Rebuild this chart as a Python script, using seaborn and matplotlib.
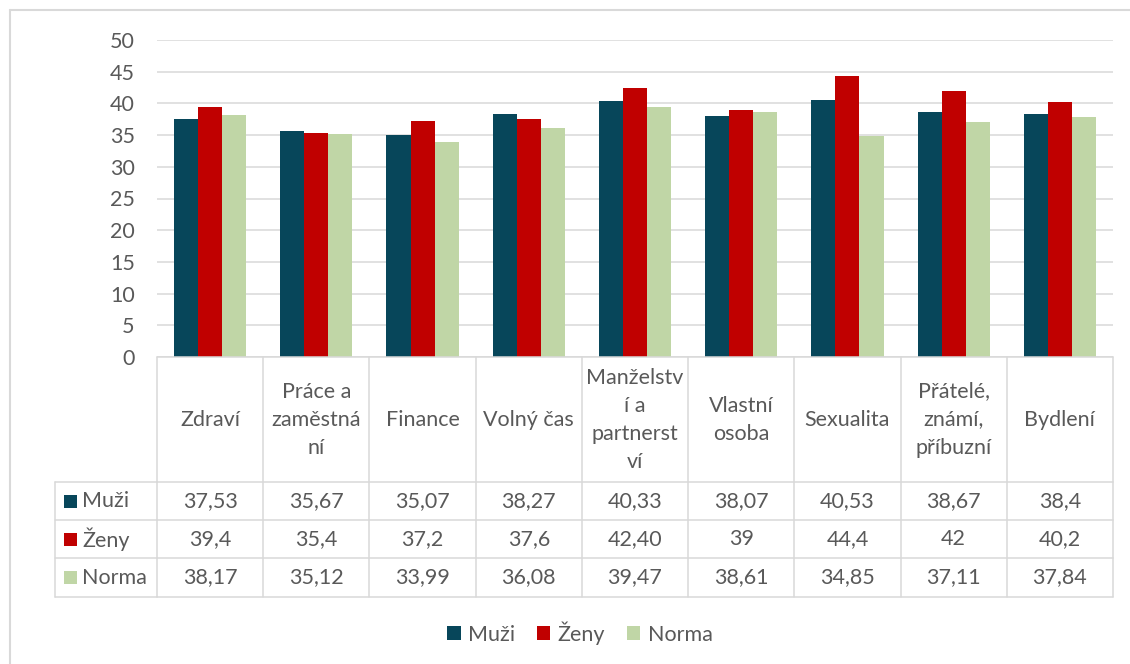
import pandas as pd
import numpy as np
import matplotlib.pyplot as plt
import seaborn as sns
from matplotlib.patches import Patch
from matplotlib.transforms import blended_transform_factory

# data (as printed in the data table)
kategorie = ['Zdraví', 'Práce a zaměstnání', 'Finance', 'Volný čas', 'Manželství a partnerství',
             'Vlastní osoba', 'Sexualita', 'Přátelé, známí, příbuzní', 'Bydlení']
popisky = ['Zdraví', 'Práce a\nzaměstná\nní', 'Finance', 'Volný čas', 'Manželstv\ní a\npartnerst\nví',
           'Vlastní\nosoba', 'Sexualita', 'Přátelé,\nznámí,\npříbuzní', 'Bydlení']
serie = ['Muži', 'Ženy', 'Norma']
muzi = ['37,53', '35,67', '35,07', '38,27', '40,33', '38,07', '40,53', '38,67', '38,4']
zeny = ['39,4', '35,4', '37,2', '37,6', '42,40', '39', '44,4', '42', '40,2']
norma = ['38,17', '35,12', '33,99', '36,08', '39,47', '38,61', '34,85', '37,11', '37,84']
barvy = ['#07465A', '#C00000', '#C0D6A6']

tabulka = {'Muži': muzi, 'Ženy': zeny, 'Norma': norma}
rows = []
for s in serie:
    for k, v in zip(kategorie, tabulka[s]):
        rows.append({'kategorie': k, 'serie': s, 'hodnota': float(v.replace(',', '.'))})
df = pd.DataFrame(rows)

sns.set_theme(style='white')
plt.rcParams['font.family'] = ['Lato', 'DejaVu Sans']
sedy = '#595959'
mrizka = '#D9D9D9'
fs = 15.5

W, H = 1130, 664
fig = plt.figure(figsize=(W / 100, H / 100), dpi=100)

def fy(py):
    return 1 - py / H

def fx(px):
    return px / W

ax = fig.add_axes([fx(157), fy(357), fx(1113) - fx(157), fy(40) - fy(357)])
sns.barplot(data=df, x='kategorie', y='hodnota', hue='serie', order=kategorie,
            hue_order=serie, palette=barvy, width=0.68, saturation=1,
            linewidth=0, ax=ax, legend=False)
ax.set_xlim(-0.5, len(kategorie) - 0.5)
ax.set_ylim(0, 50)
ax.set_yticks(np.arange(0, 51, 5))
ax.tick_params(axis='y', length=0, pad=16, labelsize=fs, labelcolor=sedy)
ax.set_xticks([])
ax.set_xlabel('')
ax.set_ylabel('')
ax.grid(axis='y', color=mrizka, linewidth=1.1)
ax.set_axisbelow(True)
for sp in ax.spines.values():
    sp.set_visible(False)

# data table below the plot
tr = blended_transform_factory(ax.transData, fig.transFigure)
n = len(kategorie)
y_top, y_head, y_end = 357, 482, 597
row_y = [482, 520, 558, 597]
lw = 1.1

def hline(x0, x1, py, trans):
    fig.add_artist(plt.Line2D([x0, x1], [fy(py), fy(py)], transform=trans, color=mrizka, lw=lw))

def vline(x, py0, py1, trans):
    fig.add_artist(plt.Line2D([x, x], [fy(py0), fy(py1)], transform=trans, color=mrizka, lw=lw))

hline(-0.5, n - 0.5, y_top, tr)
for i in range(n + 1):
    vline(i - 0.5, y_top, y_end, tr)
for py in row_y:
    hline(fx(55), fx(157), py, fig.transFigure)
    hline(-0.5, n - 0.5, py, tr)
vline(fx(55), y_head, y_end, fig.transFigure)

for i, lab in enumerate(popisky):
    fig.text(i, fy((y_top + y_head) / 2), lab, transform=tr, ha='center', va='center',
             fontsize=fs, color=sedy, linespacing=1.5)

for r, s in enumerate(serie):
    yc = fy((row_y[r] + row_y[r + 1]) / 2)
    fig.add_artist(plt.Rectangle((fx(64), yc - 6.5 / H), 13 / W, 13 / H,
                                 transform=fig.transFigure, color=barvy[r], lw=0))
    fig.text(fx(82), yc, s, ha='left', va='center', fontsize=fs, color=sedy)
    for i, v in enumerate(tabulka[s]):
        fig.text(i, yc, v, transform=tr, ha='center', va='center', fontsize=fs, color=sedy)

# legend
handles = [Patch(facecolor=c, edgecolor='none', label=s) for s, c in zip(serie, barvy)]
leg = fig.legend(handles=handles, loc='center', bbox_to_anchor=(fx(580), fy(633)), ncol=3,
                 frameon=False, fontsize=fs, handlelength=0.62, handleheight=0.62,
                 handletextpad=0.35, columnspacing=1.0)
for t in leg.get_texts():
    t.set_color(sedy)

# chart border
fig.add_artist(plt.Line2D([fx(10), 1], [fy(10), fy(10)], transform=fig.transFigure, color=mrizka, lw=1.5))
fig.add_artist(plt.Line2D([fx(10), fx(10)], [fy(10), 0], transform=fig.transFigure, color=mrizka, lw=1.5))

fig.savefig('out.png', dpi=100)
